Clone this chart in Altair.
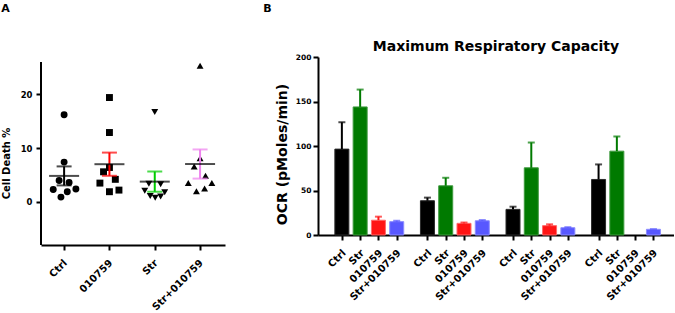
import json
import altair as alt
import pandas as pd

FONT = "DejaVu Sans"

# ---------------- Panel A: cell death scatter ----------------
a_groups = ["Ctrl", "010759", "Str", "Str+010759"]
a_shapes = ["circle", "square", "triangle-down", "triangle-up"]
a_sem_colors = ["#000000", "#ff0000", "#00cc00", "#ee82ee"]

ctrl_vals = [16.2, 7.4, 4.0, 3.6, 2.3, 2.4, 1.9, 0.9]
ctrl_jitter = [0.0, 0.0, -0.11, 0.11, -0.24, 0.26, 0.07, -0.07]
c010759_vals = [19.4, 12.9, 6.4, 5.6, 4.2, 3.5, 1.9, 2.2]
c010759_jitter = [0.0, 0.0, 0.0, -0.13, 0.13, -0.21, 0.0, 0.21]
str_vals = [16.7, 3.4, 3.3, 2.1, 1.8, 1.1, 0.8, 1.0]
str_jitter = [0.0, -0.13, 0.13, -0.22, 0.22, -0.1, 0.01, 0.13]
strc_vals = [25.3, 8.1, 6.6, 4.85, 3.5, 3.5, 2.0, 2.5]
strc_jitter = [0.0, 0.0, -0.13, 0.12, -0.26, 0.26, -0.08, 0.1]

# y-axis line extent of panel A, and x-range
a_axis_min = -8
a_axis_max = 26
a_x_min = -0.51
a_x_max = 3.55

a_series = [(ctrl_vals, ctrl_jitter), (c010759_vals, c010759_jitter),
            (str_vals, str_jitter), (strc_vals, strc_jitter)]

a_rows = []
for gi, (vals, jit) in enumerate(a_series):
    for v, j in zip(vals, jit):
        a_rows.append({"group": a_groups[gi], "gi": gi, "x": gi + j, "value": v})
a_df = pd.DataFrame(a_rows)
a_stats = a_df.groupby(["group", "gi"], sort=False)["value"].agg(["mean", "sem"]).reset_index()
a_stats["lo"] = a_stats["mean"] - a_stats["sem"]
a_stats["hi"] = a_stats["mean"] + a_stats["sem"]

A_H = 188  # plot height in px (axis line covers the lower 183 px)
a_px_per_unit = (A_H - 5) / (a_axis_max - a_axis_min)
a_ytop = a_axis_max + 5 / a_px_per_unit

a_label_expr = json.dumps(a_groups) + "[datum.value]"
a_xaxis = alt.Axis(values=[0, 1, 2, 3], labelExpr=a_label_expr, labelAngle=-45,
                   labelAlign="right", labelBaseline="middle", labelPadding=11,
                   labelOffset=1, labelFontSize=10, labelFlush=False,
                   labelOverlap=False, labelBound=False, title=None, grid=False)
a_xscale = alt.Scale(domain=[a_x_min, a_x_max], nice=False, zero=False)
a_yaxis = alt.Axis(values=[0, 10, 20], title="Cell Death %", titleFontSize=10,
                   titlePadding=9, titleY=106, labelFontSize=8.5, labelPadding=4,
                   grid=False, domain=False)
a_yscale = alt.Scale(domain=[a_axis_min, a_ytop], nice=False, zero=False)

a_color = alt.Color("group:N", scale=alt.Scale(domain=a_groups, range=a_sem_colors), legend=None)

a_axisline = alt.Chart(pd.DataFrame({"x": [a_x_min], "y": [a_axis_min], "y2": [a_axis_max]})).mark_rule(
    strokeWidth=2, color="black").encode(
    x=alt.X("x:Q", scale=a_xscale, axis=a_xaxis),
    y=alt.Y("y:Q", scale=a_yscale, axis=a_yaxis), y2="y2:Q")

a_points = alt.Chart(a_df).mark_point(filled=True, opacity=1, color="black", size=48).encode(
    x=alt.X("x:Q", scale=a_xscale, axis=a_xaxis),
    y=alt.Y("value:Q", scale=a_yscale, axis=a_yaxis),
    shape=alt.Shape("group:N", scale=alt.Scale(domain=a_groups, range=a_shapes), legend=None),
)
a_base = alt.Chart(a_stats).encode(x=alt.X("gi:Q", scale=a_xscale, axis=a_xaxis))
a_sem_rule = a_base.mark_rule(strokeWidth=2).encode(
    y=alt.Y("lo:Q", scale=a_yscale, axis=a_yaxis), y2="hi:Q", color=a_color)
a_cap_lo = a_base.mark_tick(orient="horizontal", size=15, thickness=2).encode(
    y=alt.Y("lo:Q", scale=a_yscale, axis=a_yaxis), color=a_color)
a_cap_hi = a_base.mark_tick(orient="horizontal", size=15, thickness=2).encode(
    y=alt.Y("hi:Q", scale=a_yscale, axis=a_yaxis), color=a_color)
a_mean = a_base.mark_tick(orient="horizontal", size=30, thickness=2, color="black").encode(
    y=alt.Y("mean:Q", scale=a_yscale, axis=a_yaxis))

panel_a = alt.layer(a_axisline, a_points, a_sem_rule, a_cap_lo, a_cap_hi, a_mean).properties(
    width=184, height=A_H)

# ---------------- Panel B: grouped bars ----------------
b_conditions = ["Ctrl", "Str", "010759", "Str+010759"]
b_fill = ["#000000", "#007a00", "#ff1414", "#5858ff"]
b_edge = ["#2a2a2a", "#3f9a3f", "#ff6a6a", "#8c8cff"]

ctrl_mean = [96.5, 38.5, 28.8, 62.4]
ctrl_top = [126.7, 42.0, 31.8, 79.3]
str_mean = [143.9, 55.3, 75.5, 94.2]
str_top = [163.4, 64.3, 103.9, 110.7]
c010759_mean = [16.6, 13.1, 10.5, None]
c010759_top = [20.6, 14.0, 12.0, None]
strc_mean = [15.0, 16.0, 8.2, 6.4]
strc_top = [16.0, 16.8, 8.8, 6.6]

b_series = [(ctrl_mean, ctrl_top), (str_mean, str_top),
            (c010759_mean, c010759_top), (strc_mean, strc_top)]

SLOT = 25      # axis units per bar slot
STRIDE = 117   # axis units per group (4 bars + gap)

b_rows = []
for ci, (means, tops) in enumerate(b_series):
    for g, (m, t) in enumerate(zip(means, tops)):
        b_rows.append({"cond": b_conditions[ci], "pos": g * STRIDE + ci * SLOT,
                       "mean": m, "top": t})
b_df = pd.DataFrame(b_rows)
b_ticks = sorted(b_df["pos"].tolist())

b_label_expr = json.dumps(b_conditions) + "[(datum.value % " + str(STRIDE) + ") / " + str(SLOT) + "]"
b_xaxis = alt.Axis(values=b_ticks, labelExpr=b_label_expr, labelAngle=-45,
                   labelAlign="right", labelBaseline="middle", labelPadding=11,
                   labelOffset=2, labelFontSize=10, labelFlush=False,
                   labelOverlap=False, labelBound=False, title=None, grid=False)
b_xscale = alt.Scale(domain=[-25.8, 447.3], nice=False, zero=False)
b_yaxis = alt.Axis(values=[0, 50, 100, 150, 200], title="OCR (pMoles/min)",
                   titleFontSize=14, titlePadding=6, titleY=97, labelFontSize=7.5,
                   labelPadding=2, grid=False)
b_yscale = alt.Scale(domain=[0, 200], nice=False)

b_color = alt.Color("cond:N", scale=alt.Scale(domain=b_conditions, range=b_fill), legend=None)

b_base = alt.Chart(b_df).encode(x=alt.X("pos:Q", scale=b_xscale, axis=b_xaxis))
b_bars = b_base.mark_bar(size=14, strokeWidth=1).encode(
    y=alt.Y("mean:Q", scale=b_yscale, axis=b_yaxis),
    color=b_color,
    stroke=alt.Stroke("cond:N", scale=alt.Scale(domain=b_conditions, range=b_edge), legend=None),
)
b_err = b_base.mark_rule(strokeWidth=2).encode(
    y=alt.Y("mean:Q", scale=b_yscale, axis=b_yaxis), y2="top:Q", color=b_color)
b_cap = b_base.mark_tick(orient="horizontal", size=7, thickness=2).encode(
    y=alt.Y("top:Q", scale=b_yscale, axis=b_yaxis), color=b_color)

panel_b = alt.layer(b_bars, b_err, b_cap).properties(
    width=356, height=178,
    title=alt.Title("Maximum Respiratory Capacity", font=FONT, fontSize=14,
                    fontWeight="bold", color="black", anchor="middle",
                    frame="group", offset=-1),
)

outer_a = alt.hconcat(panel_a, title=alt.Title("A", font=FONT, fontSize=11, fontWeight="bold",
                                              color="black", anchor="start", offset=43))
outer_b = alt.hconcat(panel_b, title=alt.Title("B", font=FONT, fontSize=11, fontWeight="bold",
                                              color="black", anchor="start", dx=-12, offset=26))

chart = alt.hconcat(outer_a, outer_b, spacing=38).resolve_scale(
    color="independent", shape="independent", stroke="independent"
).properties(
    padding={"left": 1, "top": 3, "right": 0, "bottom": 0}
).configure_view(stroke=None).configure_axis(
    domainColor="black", domainWidth=2, tickColor="black", tickWidth=2, tickSize=5,
    labelFont=FONT, labelFontWeight="bold", labelColor="black",
    titleFont=FONT, titleFontWeight="bold", titleColor="black",
)

chart.save("out.html", embed_options={"renderer": "svg", "actions": False})
